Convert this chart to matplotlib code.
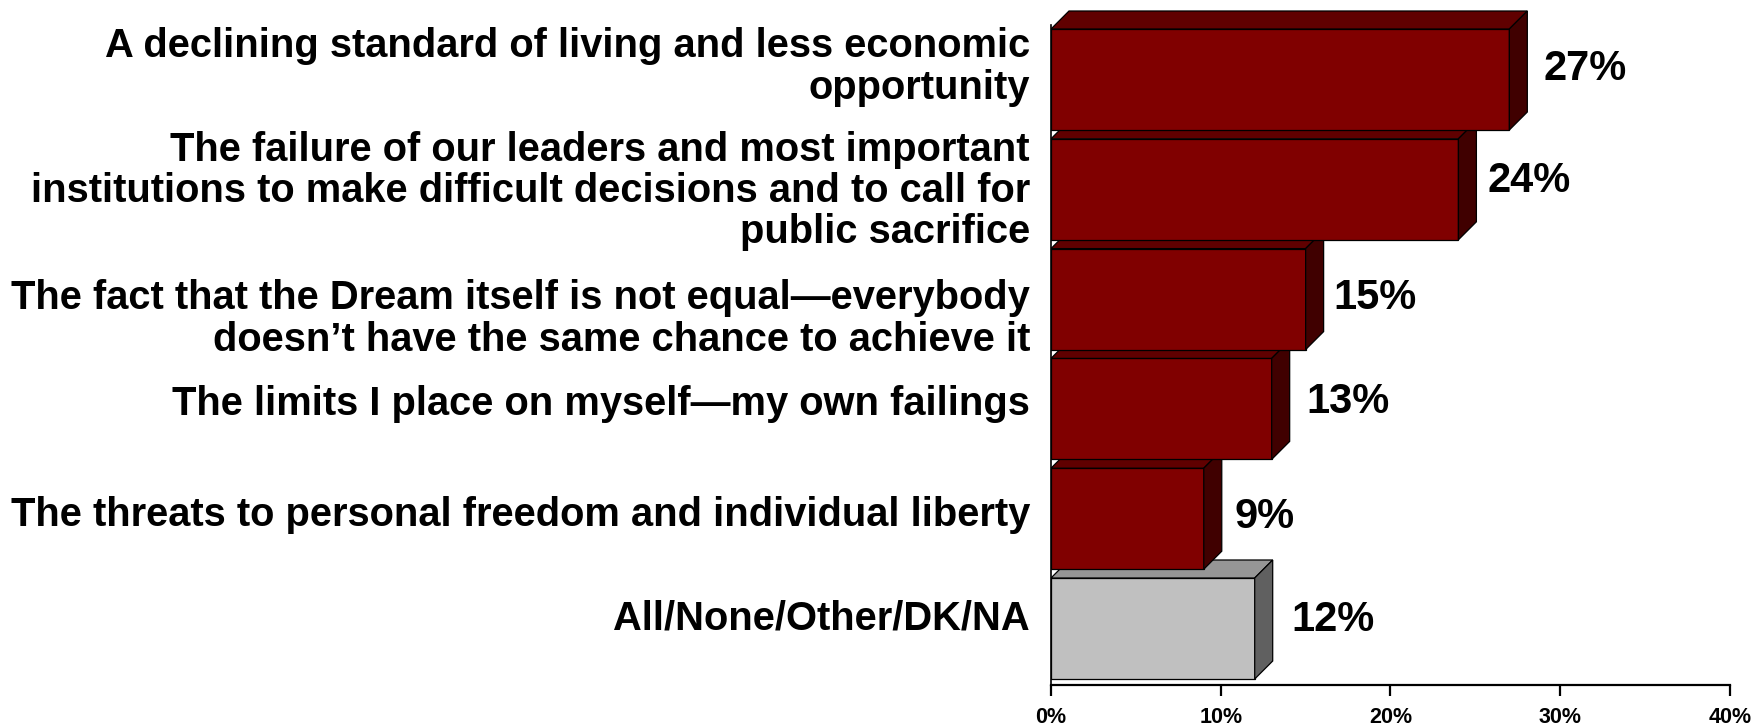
import matplotlib
matplotlib.use("Agg")
import matplotlib.pyplot as plt
from matplotlib.patches import Polygon
from matplotlib.ticker import FuncFormatter

categories = [
    "A declining standard of living and less economic\nopportunity",
    "The failure of our leaders and most important\ninstitutions to make difficult decisions and to call for\npublic sacrifice",
    "The fact that the Dream itself is not equal\u2014everybody\ndoesn\u2019t have the same chance to achieve it",
    "The limits I place on myself\u2014my own failings",
    "The threats to personal freedom and individual liberty",
    "All/None/Other/DK/NA",
]
values = [27, 24, 15, 13, 9, 12]
value_labels = ["27%", "24%", "15%", "13%", "9%", "12%"]
xticks = [0, 10, 20, 30, 40]

# layout nudges (pixels) for the text boxes, as placed in the original slide
cat_dy_px = [-12.5, 1.7, 20.0, -5.0, -3.7, -10.5]
val_dx_px = [34, 29, 28, 35, 31, 37]
val_dy_px = [-10.5, -8.0, -1.5, -7.0, -1.7, -8.5]

red = ("#800000", "#600000", "#400000")
gray = ("#C0C0C0", "#969696", "#606060")
face_sets = [red, red, red, red, red, gray]

plt.rcParams['font.family'] = ['Liberation Sans', 'DejaVu Sans']
plt.rcParams['font.weight'] = 'bold'

W, H, DPI = 1756, 727, 100
PT = 72.0 / DPI  # points per pixel
fig = plt.figure(figsize=(W / DPI, H / DPI), dpi=DPI)

x0_px, x40_px = 1051, 1730
axis_y_px = 685
ax = fig.add_axes([x0_px / W, (H - axis_y_px) / H, (x40_px - x0_px) / W, axis_y_px / H])

pitch_px = 109.8
first_center_px = 79.5
ax.set_xlim(0, 40)
ytop = -first_center_px / pitch_px
ybot = (axis_y_px - first_center_px) / pitch_px
ax.set_ylim(ybot, ytop)

px_per_unit_x = (x40_px - x0_px) / 40.0
depth_px = 18
dx = depth_px / px_per_unit_x
dy = depth_px / pitch_px
bh = 101 / pitch_px

for i, (v, cols) in enumerate(zip(values, face_sets)):
    z = 10 - i
    front, top, side = cols
    ax.barh(i, v, height=bh, left=0, color=front, edgecolor="black",
            linewidth=0.9, zorder=z)
    yt = i - bh / 2
    yb = i + bh / 2
    ax.add_patch(Polygon([(0, yt), (v, yt), (v + dx, yt - dy), (dx, yt - dy)],
                         closed=True, facecolor=top, edgecolor="black",
                         linewidth=0.9, zorder=z))
    ax.add_patch(Polygon([(v, yt), (v + dx, yt - dy), (v + dx, yb - dy), (v, yb)],
                         closed=True, facecolor=side, edgecolor="black",
                         linewidth=0.9, zorder=z))
    ax.annotate(value_labels[i], xy=(v, i),
                xytext=(val_dx_px[i] * PT, -val_dy_px[i] * PT),
                textcoords="offset points", ha="left", va="center",
                fontsize=30, fontweight="bold", zorder=20)
    ax.annotate(categories[i], xy=(0, i),
                xytext=(-21 * PT, -cat_dy_px[i] * PT),
                textcoords="offset points", ha="right", va="center",
                multialignment="right", fontsize=28.7, fontweight="bold",
                linespacing=1.11, annotation_clip=False)

for s in ["top", "right"]:
    ax.spines[s].set_visible(False)
ax.spines["bottom"].set_linewidth(1.6)
ax.spines["left"].set_linewidth(1.2)
ax.spines["left"].set_bounds(ybot, -0.5)
ax.spines["left"].set_zorder(30)

ax.set_xticks(xticks)
ax.xaxis.set_major_formatter(FuncFormatter(lambda x, p: f"{int(x)}%"))
ax.tick_params(axis="x", direction="out", length=8, width=1.6, pad=8,
               labelsize=15.5)
for lab in ax.get_xticklabels():
    lab.set_fontweight("bold")
ax.set_yticks([])

fig.savefig("out.png", dpi=DPI)
